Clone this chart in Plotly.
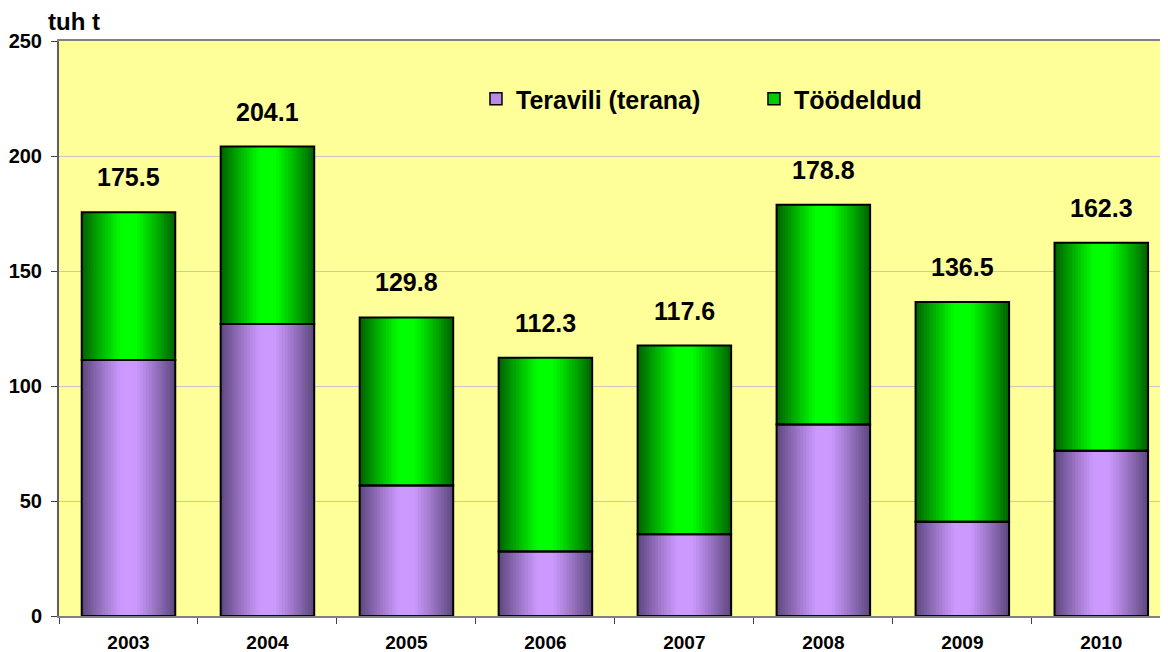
import plotly.graph_objects as go

years = ["2003", "2004", "2005", "2006", "2007", "2008", "2009", "2010"]
teravili = [111.3, 127.0, 56.7, 28.0, 35.5, 83.3, 41.0, 71.9]   # Teravili (terana)
toodeldud = [64.2, 77.1, 73.1, 84.3, 82.1, 95.5, 95.5, 90.4]    # Töödeldud
totals = [175.5, 204.1, 129.8, 112.3, 117.6, 178.8, 136.5, 162.3]

FONT = "Arial, Liberation Sans, sans-serif"
BAR_W = 0.673
N_LAYERS = 16
PURPLE = ((0x5C, 0x46, 0x7C), (0xCC, 0x99, 0xFF))  # edge, centre
GREEN = ((0x00, 0x60, 0x00), (0x00, 0xFF, 0x00))


def shade(pair, d):
    # d: 0 at bar centre, 1 at the edge; light band in the middle
    dark, light = pair
    t = min(max((d - 0.15) / 0.85, 0.0), 1.0) ** 1.1
    return "rgb(%d,%d,%d)" % tuple(round(l + (k - l) * t) for k, l in zip(dark, light))


fig = go.Figure()

# fake a horizontal gradient by stacking ever narrower, lighter bars
for pair, vals, base in [(PURPLE, teravili, [0] * len(years)), (GREEN, toodeldud, teravili)]:
    for k in range(N_LAYERS):
        w = BAR_W * (1 - k / N_LAYERS)
        d = 1 - (k + 0.5) / N_LAYERS
        fig.add_trace(go.Bar(x=years, y=vals, base=base, width=w,
                             marker=dict(color=shade(pair, d), line=dict(width=0)),
                             showlegend=False, hoverinfo="skip"))

# black outlines on top
for vals, base in [(teravili, [0] * len(years)), (toodeldud, teravili)]:
    fig.add_trace(go.Bar(x=years, y=vals, base=base, width=BAR_W,
                         marker=dict(color="rgba(0,0,0,0)", line=dict(color="black", width=2)),
                         showlegend=False))

# legend entries
for name, col in [("Teravili (terana)", "#B88AE8"), ("Töödeldud", "#00CC00")]:
    fig.add_trace(go.Bar(x=[None], y=[None], name=name,
                         marker=dict(color=col, line=dict(color="black", width=1.5))))

for i, tot in enumerate(totals):
    fig.add_annotation(x=i, y=tot, text=f"{tot:.1f}", showarrow=False,
                       yanchor="middle", yshift=35,
                       font=dict(family=FONT, size=25, color="black", weight="bold"))

fig.add_annotation(xref="paper", yref="paper", x=0, y=1, xshift=-13, yshift=20,
                   xanchor="left", yanchor="middle", text="tuh t", showarrow=False,
                   font=dict(family=FONT, size=24, color="black", weight="bold"))

# page body has an 8px margin, so the figure is 8px smaller than the window
fig.update_layout(
    width=1160, height=644,
    margin=dict(l=51, r=0, t=33, b=36),
    barmode="overlay",
    paper_bgcolor="white",
    plot_bgcolor="#FFFF99",
    font=dict(family=FONT, color="black"),
    legend=dict(orientation="h", x=0.376, y=0.899, xanchor="left", yanchor="middle",
                bgcolor="rgba(0,0,0,0)", entrywidth=233,
                font=dict(family=FONT, size=25, color="black", weight="bold")),
)
fig.update_xaxes(type="category", range=[-0.5, 7.48], showline=True, linecolor="#808080",
                 linewidth=1.5, mirror=True, ticks="outside", tickson="boundaries", ticklen=6,
                 tickcolor="#404040", showgrid=False, ticklabelstandoff=8, automargin=False,
                 tickfont=dict(family=FONT, size=19, color="black", weight="bold"))
fig.update_yaxes(range=[0, 250], dtick=50, showline=True, linecolor="#606060", linewidth=2,
                 ticks="outside", ticklen=6, tickcolor="#404040", ticklabelstandoff=5,
                 showgrid=True, gridcolor="#C8C8C0", gridwidth=1, zeroline=False,
                 automargin=False,
                 tickfont=dict(family=FONT, size=20, color="black", weight="bold"))

fig.write_html("out.html")
